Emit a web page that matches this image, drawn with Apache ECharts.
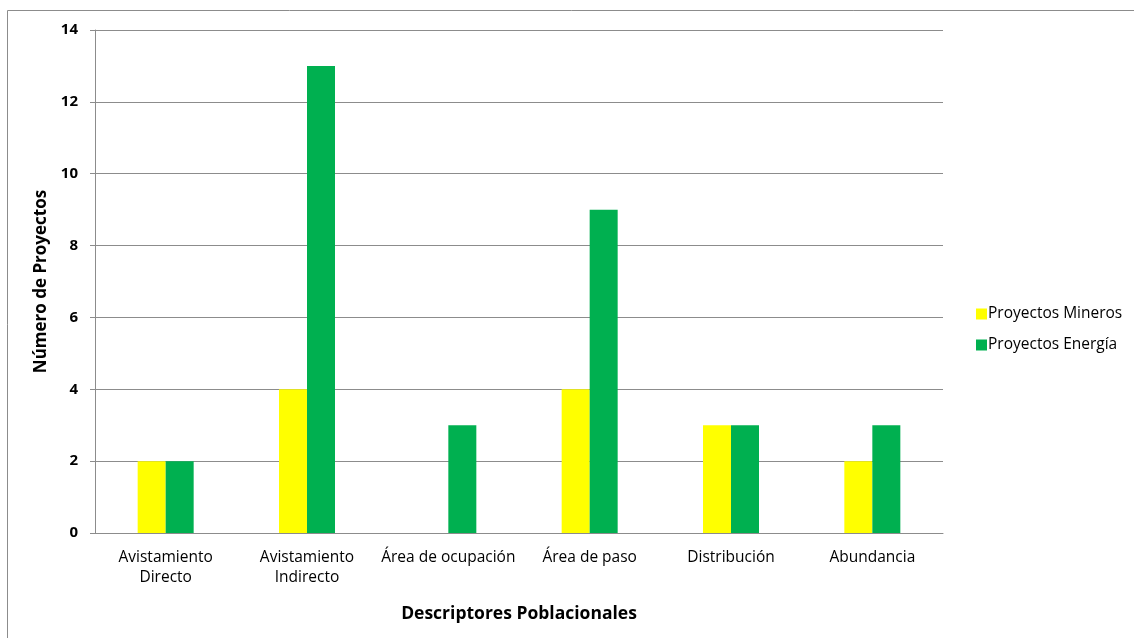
<!DOCTYPE html>
<html><head><meta charset="utf-8">
<script src="https://cdn.jsdelivr.net/npm/echarts@6/dist/echarts.min.js"></script>
<style>html,body{margin:0;padding:0;background:#fff}#c{width:1134px;height:638px}</style>
</head><body><div id="c"></div>
<script>
const categories = ['Avistamiento\nDirecto','Avistamiento\nIndirecto','Área de ocupación','Área de paso','Distribución','Abundancia'];
const mineros = [2, 4, 0, 4, 3, 2];
const energia = [2, 13, 3, 9, 3, 3];
const yTicks = [0, 2, 4, 6, 8, 10, 12, 14];

const font = '"Open Sans", Lato, sans-serif';
const chart = echarts.init(document.getElementById('c'));
chart.setOption({
  animation: false,
  graphic: [{type:'rect', shape:{x:7.5,y:10.5,width:1140,height:640}, style:{fill:'none', stroke:'#8c8c8c', lineWidth:1}, silent:true}],
  grid: {left:95, right:191, top:30, bottom:105, containLabel:false},
  legend: {
    orient:'vertical', left:971, top:299, itemWidth:11, itemHeight:11, itemGap:11,
    icon:'rect', textStyle:{fontFamily:font, fontSize:15.5, color:'#000', padding:[0,0,0,-4], lineHeight:20},
    data:['Proyectos Mineros','Proyectos Energía']
  },
  xAxis: {
    type:'category', data:categories,
    name:'Descriptores Poblacionales', nameLocation:'middle', nameGap:72,
    nameTextStyle:{fontFamily:font, fontSize:17.5, fontWeight:'bold', color:'#000'},
    axisLine:{lineStyle:{color:'#8c8c8c'}}, axisTick:{show:false},
    axisLabel:{fontFamily:font, fontSize:15.5, color:'#000', margin:15, lineHeight:20, interval:0}
  },
  yAxis: {
    type:'value', min:yTicks[0], max:yTicks[yTicks.length-1], interval:2,
    name:'Número de Proyectos', nameLocation:'middle', nameGap:44,
    nameTextStyle:{fontFamily:font, fontSize:17, fontWeight:'bold', color:'#000'},
    axisLine:{show:true, lineStyle:{color:'#8c8c8c'}},
    axisTick:{show:true, length:5, lineStyle:{color:'#8c8c8c'}},
    splitLine:{lineStyle:{color:'#8c8c8c'}},
    axisLabel:{fontFamily:font, fontSize:15, fontWeight:'bold', color:'#000', margin:17}
  },
  series: [
    {name:'Proyectos Mineros', type:'bar', data:mineros, barWidth:28, barGap:'0%', itemStyle:{color:'#FFFF00'}},
    {name:'Proyectos Energía', type:'bar', data:energia, barWidth:28, barGap:'0%', itemStyle:{color:'#00B050'}}
  ]
});
</script></body></html>
